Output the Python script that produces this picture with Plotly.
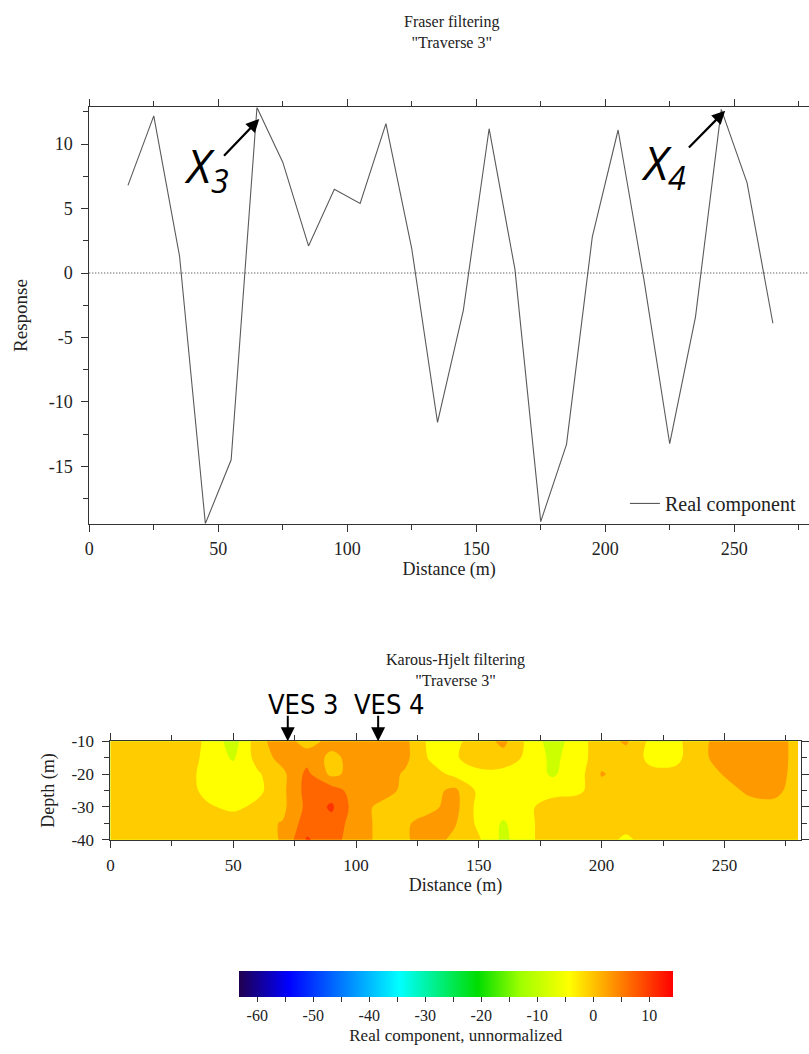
import plotly.graph_objects as go

W, H = 809, 1054
SERIF = "Liberation Serif, Times New Roman, serif"
INK = "#222222"

# ---- Fraser filtering profile, traverse 3 ----
distance_m = [15, 25, 35, 45, 55, 65, 75, 85, 95, 105, 115, 125, 135,
              145, 155, 165, 175, 185, 195, 205, 215, 225, 235, 245, 255, 265]
real_response = [6.8, 12.2, 1.3, -19.45, -14.5, 12.85, 8.6, 2.1, 6.5, 5.4, 11.6, 1.9, -11.6,
                  -2.9, 11.2, 0.3, -19.3, -13.3, 2.8, 11.1, -0.5, -13.25, -3.4, 12.7, 7.0, -3.9]

resp_tickvals = [-15, -10, -5, 0, 5, 10]
resp_ticktext = ["-15", "-10", "-5", "0", "5", "10"]

# ---- Karous-Hjelt current density section, traverse 3 ----
kh_distance = [0, 10, 20, 30, 40, 50, 60, 70, 80, 90, 100, 110, 120, 130, 140,
               150, 160, 170, 180, 190, 200, 210, 220, 230, 240, 250, 260, 270, 280]
kh_depth = [-10, -15, -20, -25, -30, -35, -40]
kh_real = [
    [1, 1, 1, 0.5, -3, -8, 0.5, 4.5, 0, 3.5, 4.5, 4.5, 3, -3, -3,
     0, 3, -3, -8, -4, 0.5, 2.5, -3, -3, 0.5, 4.5, 5, 5, 0],
    [1, 1, 1, 0.5, -3.5, -6.5, -0.5, 3.5, 4.5, 1, 3.5, 4.5, 3, -2.5, -2.5,
     0, 0.5, -3, -7, -4, 0.5, 0.5, -3, -3, 0.5, 4.5, 5, 5, 0],
    [1, 1, 1, 0, -4, -4, -2.5, 1, 7, 1, 3.5, 4, 1.5, 0, -3,
     -3, -3.5, -4, -6.5, -4, 2.3, 0.5, -1, -1, 0.5, 2.2, 4.5, 4.5, 0],
    [1, 1, 1, 0, -3.5, -4.5, -3, 1, 7.5, 8, 4, 4, 1, 0.5, 3,
     -3, -4, -4, -4, -3, 0.5, 0.5, 0.5, 0.5, 0.5, 1, 2.5, 3, 0.5],
    [1, 1, 1, 0.5, -1.5, -3, -1, 1, 7, 10.7, 4, 1, 0.5, 1, 3.5,
     -3.5, -4, -3, 0.5, 0.5, 1, 1, 1, 1, 1, 1, 1, 1, 1],
    [1, 1, 1, 1, 1, 0.5, 1, 2.2, 8, 8.5, 4, 1, 1.5, 3.5, 2.5,
     -3, -6.5, -3, 0.5, 0, 0.5, 0, 1, 1, 1, 1, 1, 1, 1],
    [1, 1, 1, 1, 1, 1, 1, 2.2, 10.5, 7.5, 4, 1, 1.5, 4, 1,
     -1.5, -7, -3, 0.5, 0.5, 0, -3, 0.5, 1, 1, 1, 1, 1, 1],
]
depth_tickvals = [-40, -30, -20, -10]
depth_ticktext = ["-40", "-30", "-20", "-10"]

# contour bands: levels -10, -6, -2, 2, 6, 10 -> seven filled bands
band_colors = ["#80ff00", "#ccff00", "#ffff00", "#ffcc00", "#ff9900", "#ff6600", "#ff3300"]
band_scale = [[i / (len(band_colors) - 1), c] for i, c in enumerate(band_colors)]

# colour bar
cb_min, cb_max = -63.3, 14.2
cb_tickvals = [-60, -55, -50, -45, -40, -35, -30, -25, -20, -15, -10, -5, 0, 5, 10]
cb_ticktext = ["-60", "", "-50", "", "-40", "", "-30", "", "-20", "", "-10", "", "0", "", "10"]
rainbow = [
    [0.0, "#200050"],
    [0.115, "#0000ff"],
    [0.37, "#00ffff"],
    [0.55, "#00dd00"],
    [0.65, "#a0ff00"],
    [0.76, "#ffff00"],
    [1.0, "#ff0000"],
]


def px_x(p):
    return p / W


def px_y(p):
    return 1 - p / H


fig = go.Figure()

fig.add_trace(go.Scatter(
    x=distance_m, y=real_response, mode="lines", name="Real component",
    line=dict(color="#5a5a5a", width=1.1), xaxis="x", yaxis="y",
    hoverinfo="x+y",
))

fig.add_trace(go.Contour(
    x=kh_distance, y=kh_depth, z=kh_real, xaxis="x2", yaxis="y2",
    autocontour=False,
    contours=dict(start=-10, end=10, size=4, coloring="fill", showlines=False),
    line=dict(width=0, smoothing=1),
    colorscale=band_scale, showscale=False, showlegend=False,
    hoverinfo="skip",
))

fig.add_trace(go.Scatter(
    x=[None], y=[None], mode="markers", xaxis="x2", yaxis="y2",
    showlegend=False, hoverinfo="skip",
    marker=dict(
        color=[0], colorscale=rainbow, cmin=cb_min, cmax=cb_max, showscale=True,
        colorbar=dict(
            orientation="h", x=px_x(454), xanchor="center",
            y=px_y(980), yanchor="top", len=436 / W, lenmode="fraction",
            thickness=26, thicknessmode="pixels", xpad=0, ypad=0,
            outlinewidth=0, ticks="outside", ticklen=5, tickwidth=1,
            tickcolor="#333333", tickmode="array",
            tickvals=cb_tickvals, ticktext=cb_ticktext,
            tickfont=dict(family=SERIF, size=16, color=INK),
            title=dict(text="Real component, unnormalized", side="bottom",
                       font=dict(family=SERIF, size=17, color=INK)),
        ),
    ),
))

axis_base = dict(
    showgrid=False, zeroline=False, showline=True, linecolor="#333333",
    linewidth=1, ticks="outside", tickcolor="#333333", tickwidth=1,
)

fig.update_layout(
    width=W, height=H,
    margin=dict(l=0, r=0, t=0, b=0),
    paper_bgcolor="white", plot_bgcolor="white",
    font=dict(family=SERIF, color=INK),
    xaxis=dict(
        **axis_base, domain=[px_x(85.7), 1.0], range=[0, 279], anchor="y",
        tick0=0, dtick=50, ticklen=7, mirror="ticks", ticklabelstandoff=2,
        minor=dict(tick0=0, dtick=25, ticks="outside", ticklen=5, tickcolor="#333333"),
        tickfont=dict(family=SERIF, size=18, color=INK),
        title=dict(text="Distance (m)", standoff=0,
                   font=dict(family=SERIF, size=18, color=INK)),
    ),
    yaxis=dict(
        **axis_base, domain=[px_y(524.3), px_y(100)], range=[-19.47, 12.87],
        anchor="x", tickmode="array", tickvals=resp_tickvals, ticktext=resp_ticktext,
        ticklen=7, ticklabelstandoff=5,
        minor=dict(tick0=0, dtick=2.5, ticks="outside", ticklen=5, tickcolor="#333333"),
        tickfont=dict(family=SERIF, size=18, color=INK),
        title=dict(text="Response", standoff=16,
                   font=dict(family=SERIF, size=19, color=INK)),
    ),
    xaxis2=dict(
        **axis_base, domain=[px_x(107), px_x(800.5)], range=[0, 281], anchor="y2",
        tick0=0, dtick=50, ticklen=7, mirror="ticks", ticklabelstandoff=3,
        minor=dict(tick0=0, dtick=25, ticks="outside", ticklen=5, tickcolor="#333333"),
        tickfont=dict(family=SERIF, size=17, color=INK),
        title=dict(text="Distance (m)", standoff=2,
                   font=dict(family=SERIF, size=18, color=INK)),
    ),
    yaxis2=dict(
        **axis_base, domain=[px_y(846), px_y(745.7)], range=[-40, -10],
        anchor="x2", tickmode="array", tickvals=depth_tickvals, ticktext=depth_ticktext,
        ticklen=7, mirror="ticks", ticklabelstandoff=5,
        minor=dict(tick0=0, dtick=5, ticks="outside", ticklen=5, tickcolor="#333333"),
        tickfont=dict(family=SERIF, size=17, color=INK),
        title=dict(text="Depth (m)", standoff=12,
                   font=dict(family=SERIF, size=18, color=INK)),
    ),
    legend=dict(
        x=px_x(624), xanchor="left", y=px_y(503.5), yanchor="middle",
        bgcolor="rgba(0,0,0,0)", borderwidth=0,
        font=dict(family=SERIF, size=20, color=INK),
    ),
    shapes=[dict(
        type="line", xref="x domain", yref="y", x0=0, x1=1, y0=0, y1=0,
        line=dict(color="#333333", width=1, dash="1px,2px"),
    )],
)

title_font = dict(family=SERIF, size=16, color=INK)
label_font = dict(family="Open Sans, Liberation Sans, sans-serif", size=46, color="black")
ves_font = dict(family="Liberation Sans Narrow, DejaVu Sans Condensed, Roboto, sans-serif",
                size=27, color="black")

annotations = [
    # chart titles
    dict(text="Fraser filtering<br>\"Traverse 3\"", xref="paper", yref="paper",
         x=px_x(450), y=px_y(23), xanchor="center", yanchor="middle",
         showarrow=False, font=title_font),
    dict(text="Karous-Hjelt filtering<br>\"Traverse 3\"", xref="paper", yref="paper",
         x=px_x(454), y=px_y(673), xanchor="center", yanchor="middle",
         showarrow=False, font=title_font),
    # peak markers on the Fraser profile
    dict(text="", xref="x", yref="y", x=65.9, y=11.96, ax=-36.7, ay=38.3,
         showarrow=True, arrowhead=2, arrowsize=1.2, arrowwidth=2.2,
         arrowcolor="black", standoff=0, startstandoff=0),
    dict(text="<i>X<sub>3</sub></i>", xref="paper", yref="paper", x=px_x(204), y=px_y(162),
         xanchor="center", yanchor="middle", showarrow=False, font=label_font),
    dict(text="", xref="x", yref="y", x=246.5, y=12.6, ax=-37.7, ay=38.4,
         showarrow=True, arrowhead=2, arrowsize=1.2, arrowwidth=2.2,
         arrowcolor="black", standoff=0, startstandoff=0),
    dict(text="<i>X<sub>4</sub></i>", xref="paper", yref="paper", x=px_x(663), y=px_y(159),
         xanchor="center", yanchor="middle", showarrow=False, font=label_font),
    # sounding locations on the section
    dict(text="", xref="x2", yref="y2", x=72.2, y=-10, ax=0, ay=-27,
         showarrow=True, arrowhead=2, arrowsize=1.4, arrowwidth=2,
         arrowcolor="black", standoff=0, startstandoff=0),
    dict(text="VES 3", xref="paper", yref="paper", x=px_x(301), y=px_y(708),
         xanchor="center", yanchor="middle", showarrow=False, font=ves_font),
    dict(text="", xref="x2", yref="y2", x=109, y=-10, ax=0, ay=-27,
         showarrow=True, arrowhead=2, arrowsize=1.4, arrowwidth=2,
         arrowcolor="black", standoff=0, startstandoff=0),
    dict(text="VES 4", xref="paper", yref="paper", x=px_x(387), y=px_y(708),
         xanchor="center", yanchor="middle", showarrow=False, font=ves_font),
]
fig.update_layout(annotations=annotations)

fig.write_html("out.html")
